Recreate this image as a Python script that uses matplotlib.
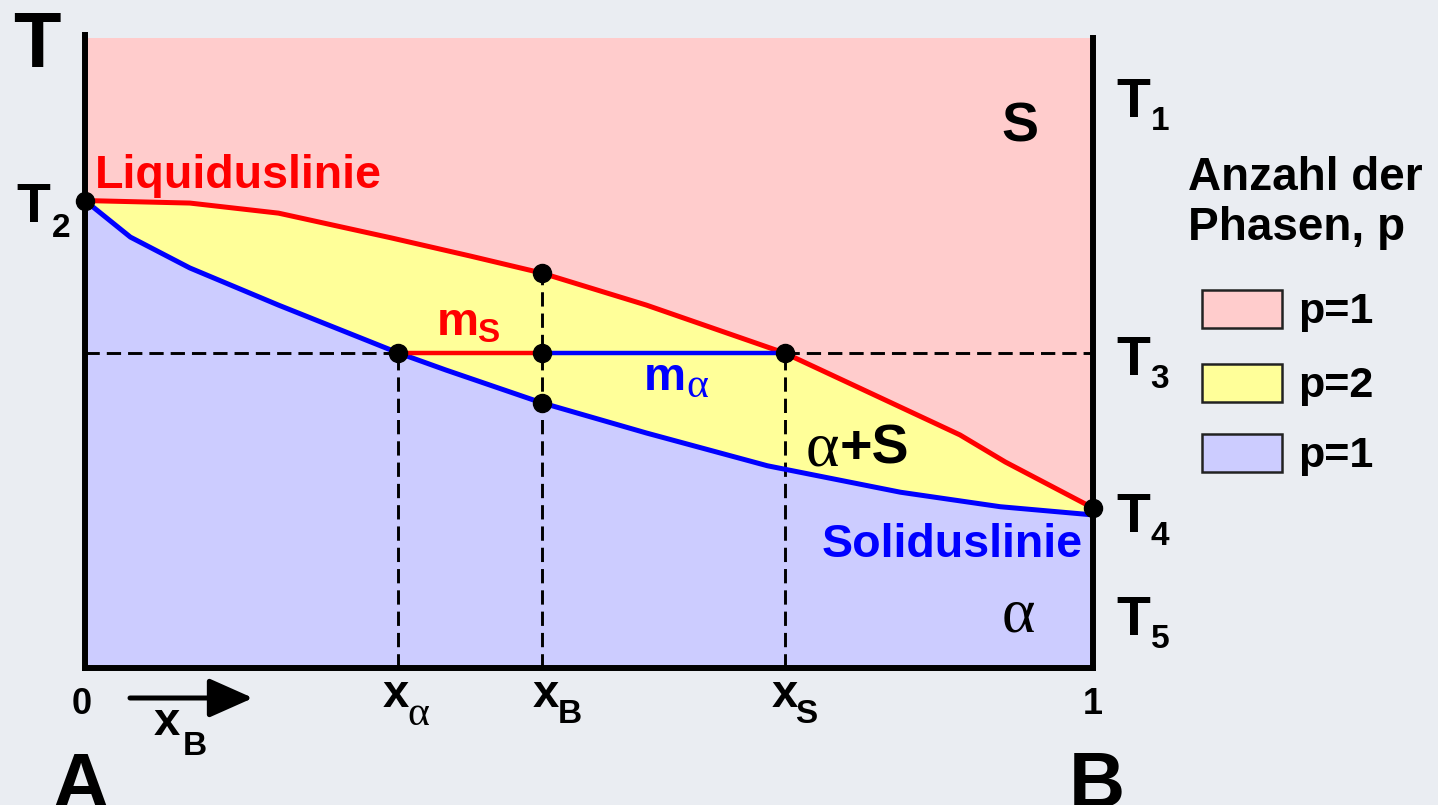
import matplotlib.pyplot as plt
from matplotlib.patches import Rectangle

# phase diagram values (x = mole fraction B, T in arbitrary units 0..100)
liq_x = [0.0, 0.104, 0.192, 0.303, 0.382, 0.453, 0.557, 0.694, 0.769, 0.868, 0.913, 1.0]
liq_T = [74.2, 73.8, 72.2, 68.3, 65.4, 62.7, 57.6, 50.0, 44.4, 37.0, 32.7, 25.4]
sol_x = [0.0, 0.045, 0.104, 0.192, 0.311, 0.358, 0.453, 0.557, 0.677, 0.809, 0.908, 1.0]
sol_T = [74.2, 68.4, 63.5, 57.6, 50.0, 47.3, 42.1, 37.3, 32.1, 27.9, 25.6, 24.3]
T_top = 100.0
T_tie = 50.0
x_alpha = 0.311
x_B = 0.453
x_S = 0.694
T_liq_B = 62.7
T_sol_B = 42.1
T2 = 74.2
T4 = 25.4
legend_labels = ['p=1', 'p=2', 'p=1']

pink = '#ffcccc'
yellow = '#ffff99'
lilac = '#ccccff'
red = '#ff0000'
blue = '#0000ff'
W, H = 1438, 805
SANS = 'Liberation Sans'
SERIF = 'Liberation Serif'

fig = plt.figure(figsize=(W / 100, H / 100), dpi=100)
fig.patch.set_facecolor('#eaedf2')
ax = fig.add_axes([85 / W, 1 - 668 / H, (1093 - 85) / W, (668 - 38) / H])
ax.set_xlim(0, 1)
ax.set_ylim(0, T_top)
ax.set_xticks([])
ax.set_yticks([])
ax.patch.set_alpha(0)

# phase regions
ax.fill([0] + liq_x + [1, 0], [T2] + liq_T + [T_top, T_top], color=pink, lw=0, zorder=1)
ax.fill(liq_x + sol_x[::-1], liq_T + sol_T[::-1], color=yellow, lw=0, zorder=1)
ax.fill(sol_x + [1, 0], sol_T + [0, 0], color=lilac, lw=0, zorder=1)

# liquidus / solidus
ax.plot(liq_x, liq_T, color=red, lw=3.6, zorder=3, solid_capstyle='butt')
ax.plot(sol_x, sol_T, color=blue, lw=3.6, zorder=3, solid_capstyle='butt')

# construction lines
ds = (0, (4.9, 2.4))
ax.plot([0, x_alpha], [T_tie, T_tie], color='black', lw=2.1, ls=ds, zorder=2)
ax.plot([x_S, 1], [T_tie, T_tie], color='black', lw=2.1, ls=ds, zorder=2)
for xv, tv in [(x_alpha, T_tie), (x_B, T_liq_B), (x_S, T_tie)]:
    ax.plot([xv, xv], [0, tv], color='black', lw=2.1, ls=ds, zorder=2)

# tie line: m_S (red) and m_alpha (blue) parts
ax.plot([x_alpha, x_B], [T_tie, T_tie], color=red, lw=3.2, zorder=3)
ax.plot([x_B, x_S], [T_tie, T_tie], color=blue, lw=3.2, zorder=3)

# points
px_pts = [0, 1, x_alpha, x_B, x_S, x_B, x_B]
py_pts = [T2, T4, T_tie, T_tie, T_tie, T_liq_B, T_sol_B]
ax.plot(px_pts, py_pts, 'o', color='black', ms=13, zorder=5, clip_on=False)

# frame
ax.spines['top'].set_visible(False)
for s in ['left', 'right', 'bottom']:
    ax.spines[s].set_linewidth(4.3)
    ax.spines[s].set_zorder(4)
ax.plot([0, 0], [T_top, 101], color='black', lw=4.3, clip_on=False, zorder=4, solid_capstyle='butt')


def txt(x, y, s, size, color='black', ha='center', family=SANS, weight='bold'):
    fig.text(x / W, 1 - y / H, s, fontsize=size, color=color, ha=ha, va='baseline',
             family=family, weight=weight)


# T axis labels
txt(37, 67, 'T', 56)
txt(33, 222, 'T', 40)
txt(61, 237, '2', 24)
for yb, n in [(117, '1'), (375, '3'), (532, '4'), (635, '5')]:
    txt(1133, yb, 'T', 40)
    txt(1160, yb + 13, n, 24)

# region labels
txt(1020, 142, 'S', 40)
txt(95, 188, 'Liquiduslinie', 33.6, color=red, ha='left')
txt(1083, 557, 'Soliduslinie', 33.6, color=blue, ha='right')
txt(458, 335, 'm', 34, color=red)
txt(488, 342, 'S', 24, color=red)
txt(665, 390, 'm', 34, color=blue)
txt(697, 397, 'α', 30, color=blue, family=SERIF, weight='normal')
txt(822, 465, 'α', 46, family=SERIF, weight='normal')
txt(840, 463, '+S', 40, ha='left')
txt(1018, 632, 'α', 46, family=SERIF, weight='normal')

# composition axis
txt(82, 714, '0', 26)
txt(1093, 714, '1', 26)
txt(396, 707, 'x', 34)
txt(418, 725, 'α', 30, family=SERIF, weight='normal')
txt(546, 707, 'x', 34)
txt(570, 723, 'B', 24)
txt(785, 707, 'x', 34)
txt(806, 723, 'S', 24)
ax.annotate('', xy=(253 / W, 1 - 698 / H), xytext=(130 / W, 1 - 698 / H),
            xycoords='figure fraction', textcoords='figure fraction',
            arrowprops=dict(arrowstyle='-|>,head_length=2.7,head_width=1.2', color='black',
                            lw=3.6, shrinkA=0, shrinkB=0))
txt(167, 735, 'x', 34)
txt(195, 755, 'B', 24)
txt(80, 807, 'A', 56)
txt(1097, 807, 'B', 56)

# legend
txt(1188, 190, 'Anzahl der', 33, ha='left')
txt(1188, 240, 'Phasen, p', 33, ha='left')
for i, (c, lab) in enumerate(zip([pink, yellow, lilac], legend_labels)):
    yc = [309, 383, 453][i]
    fig.add_artist(Rectangle((1202 / W, 1 - (yc + 19) / H), 80 / W, 38 / H,
                             facecolor=c, edgecolor='#222222', lw=1.8,
                             transform=fig.transFigure))
    txt(1298, yc + 14, lab, 31, ha='left')

fig.savefig('out.png', dpi=100, facecolor=fig.get_facecolor())
